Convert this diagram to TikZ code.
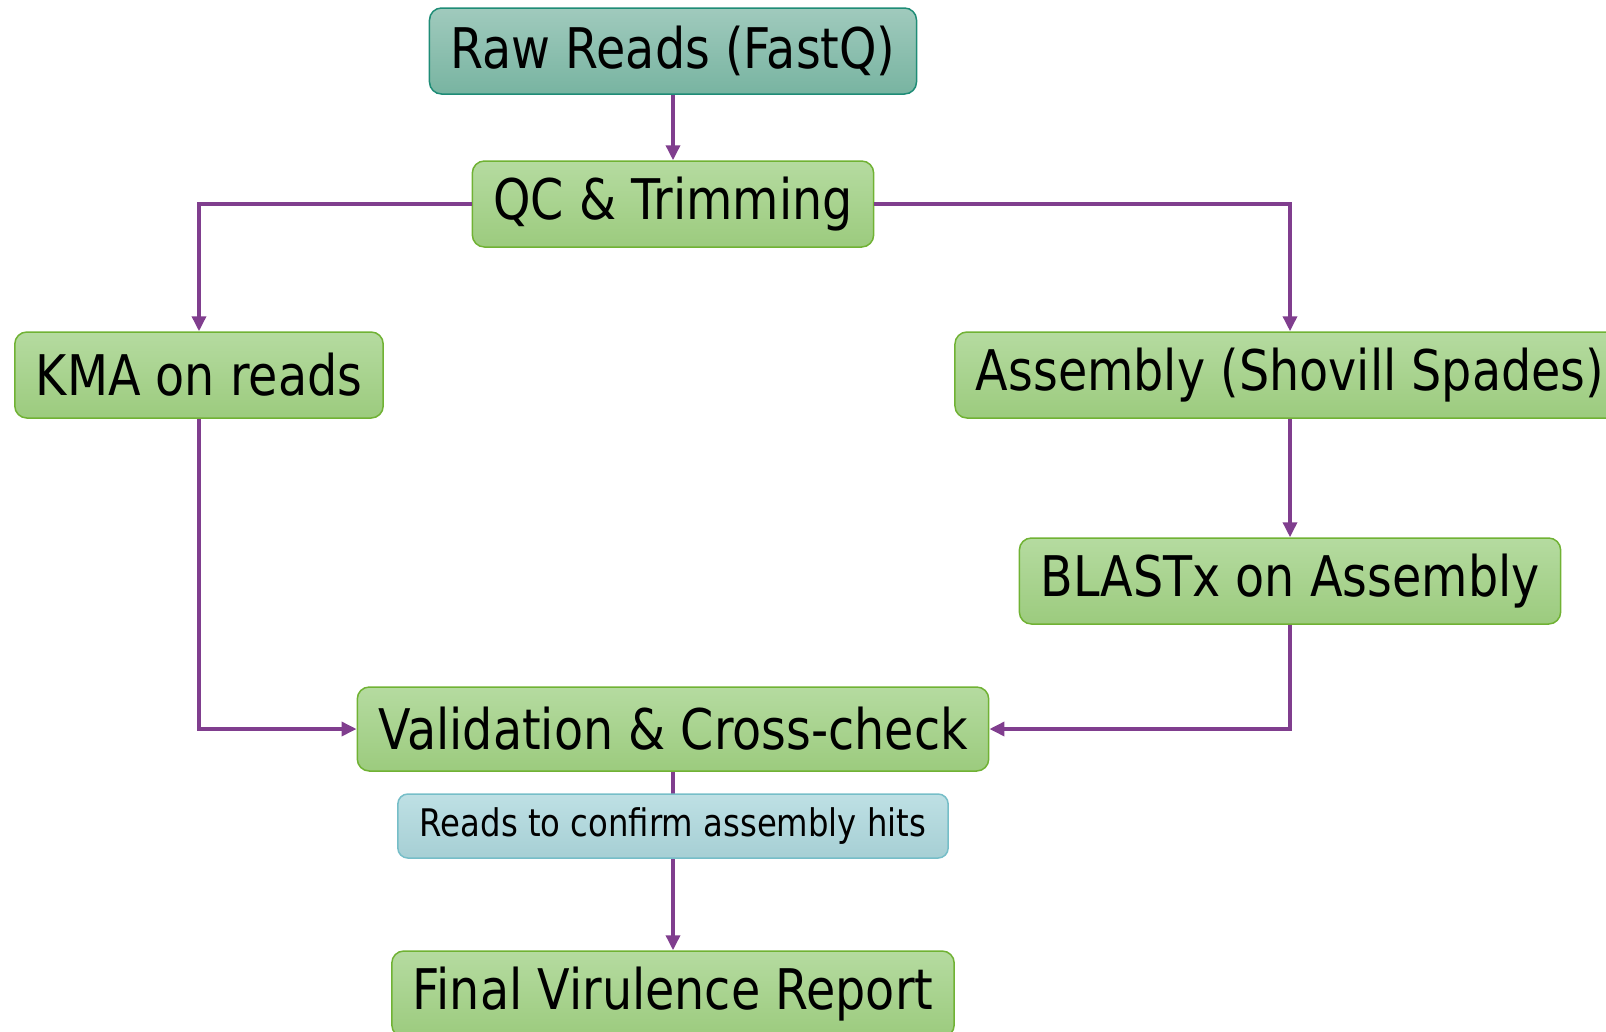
\documentclass[tikz,border=0pt]{standalone}
\usepackage{fontspec}
\setmainfont{DejaVu Sans}[FakeStretch=0.85]
\usepackage{tikz}
\usetikzlibrary{arrows.meta}

\definecolor{flowpurple}{RGB}{128,62,142}
\definecolor{greentop}{RGB}{181,219,160}
\definecolor{greenbot}{RGB}{156,203,126}
\definecolor{greenline}{RGB}{112,178,52}
\definecolor{tealtop}{RGB}{160,202,189}
\definecolor{tealbot}{RGB}{120,180,161}
\definecolor{tealline}{RGB}{30,140,118}
\definecolor{notetop}{RGB}{190,224,228}
\definecolor{notebot}{RGB}{166,207,212}
\definecolor{noteline}{RGB}{118,190,200}

\tikzset{
  stepbox/.style={draw=greenline, line width=1.5pt, rounded corners=12pt,
    top color=greentop, bottom color=greenbot, inner xsep=21pt, inner ysep=0pt,
    minimum height=86pt, font=\fontsize{56}{62}\selectfont},
  inbox/.style={stepbox, draw=tealline, top color=tealtop, bottom color=tealbot},
  notebox/.style={draw=noteline, line width=1.5pt, rounded corners=10pt,
    top color=notetop, bottom color=notebot, inner xsep=22pt, inner ysep=0pt,
    minimum height=64pt, font=\fontsize{38}{44}\selectfont},
  flow/.style={flowpurple, line width=3.5pt, -{Triangle[length=15pt,width=14pt]}}
}

\begin{document}
\begin{tikzpicture}[x=1pt,y=-1pt]
\def\C{673}
\def\R{1290}
\def\Lx{199}

\useasboundingbox (0,0) rectangle (1606,1031);

% Boxes
\node[inbox] (raw) at (\C,51) {Raw Reads (FastQ)};
\node[stepbox] (qc) at (\C,204) {QC \& Trimming};
\node[stepbox] (kma) at (\Lx,375) {KMA on reads};
\node[stepbox] (asm) at (\R,375) {Assembly (Shovill Spades)};
\node[stepbox] (blast) at (\R,581) {BLASTx on Assembly};
\node[stepbox, minimum height=84pt] (valid) at (\C,729) {Validation \& Cross-check};
\node[stepbox] (final) at (\C,994) {Final Virulence Report};

% Arrows
\draw[flow] (raw.south) -- (qc.north);
\draw[flow] (qc.west) -| (kma.north);
\draw[flow] (qc.east) -| (asm.north);
\draw[flow] (asm.south) -- (blast.north);
\draw[flow] (kma.south) |- (valid.west);
\draw[flow] (blast.south) |- (valid.east);
\draw[flow] (valid.south) -- (final.north);

% Label on the last arrow
\node[notebox] (note) at (\C,826) {Reads to confirm assembly hits};
\end{tikzpicture}
\end{document}
